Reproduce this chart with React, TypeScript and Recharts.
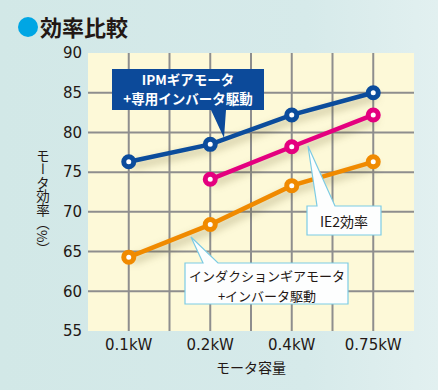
import { CartesianGrid, Line, LineChart, XAxis, YAxis } from "recharts"

const categories = ["0.1kW", "0.2kW", "0.4kW", "0.75kW"]
const ipmValues = [76.3, 78.5, 82.2, 85.0]
const ie2Values = [null, 74.1, 78.2, 82.2]
const inductionValues = [64.3, 68.4, 73.3, 76.3]
const yTicks = [55, 60, 65, 70, 75, 80, 85, 90]

const data = categories.map((name, i) => ({
  name,
  ipm: ipmValues[i],
  ie2: ie2Values[i],
  induction: inductionValues[i],
}))

const BLUE = "#0b4c9c"
const PINK = "#e4007f"
const ORANGE = "#f08a00"
const JP = "'Noto Sans CJK JP', sans-serif"
const NUM = "'DejaVu Sans', sans-serif"

export default function App() {
  return (
    <div
      style={{
        position: "absolute",
        left: 0,
        top: 0,
        width: 438,
        height: 390,
        background: "linear-gradient(90deg, #d2e8e7 0%, #d6eaea 70%, #e2f0f0 100%)",
        overflow: "hidden",
      }}
    >
      <style>{`.recharts-line { filter: drop-shadow(3px 4px 4px rgba(70, 60, 0, 0.35)); }`}</style>
      <LineChart width={438} height={390} data={data} margin={{ top: 53, right: 24, left: 0, bottom: 0 }}>
        <CartesianGrid
          fill="#fdf9d8"
          stroke="#8e8e8e"
          strokeWidth={2}
          verticalCoordinatesGenerator={({ offset }: any) =>
            [1, 2, 3, 4, 5, 6, 7].map((i) => offset.left + (offset.width * i) / 8)
          }
          horizontalCoordinatesGenerator={({ offset }: any) =>
            [1, 2, 3, 4, 5, 6].map((i) => offset.top + (offset.height * i) / 7)
          }
        />
        <XAxis
          dataKey="name"
          scale="band"
          axisLine={false}
          tickLine={false}
          height={59}
          tick={{ fill: "#231815", fontSize: 15, fontFamily: NUM }}
          label={{
            value: "モータ容量",
            position: "insideBottom",
            offset: 17,
            fill: "#231815",
            fontSize: 14,
            fontFamily: JP,
          }}
        />
        <YAxis
          domain={[55, 90]}
          ticks={yTicks}
          width={88}
          axisLine={false}
          tickLine={false}
          tickMargin={0}
          tick={{ fill: "#231815", fontSize: 15, fontFamily: NUM }}
        />
        <Line
          dataKey="ipm"
          stroke={BLUE}
          strokeWidth={4.5}
          dot={{ r: 5, fill: "#fff", stroke: BLUE, strokeWidth: 5 }}
          isAnimationActive={false}
        />
        <Line
          dataKey="ie2"
          stroke={PINK}
          strokeWidth={4.5}
          dot={{ r: 5, fill: "#fff", stroke: PINK, strokeWidth: 5 }}
          isAnimationActive={false}
        />
        <Line
          dataKey="induction"
          stroke={ORANGE}
          strokeWidth={4.5}
          dot={{ r: 5, fill: "#fff", stroke: ORANGE, strokeWidth: 5 }}
          isAnimationActive={false}
        />
      </LineChart>

      {/* title */}
      <div
        style={{
          position: "absolute",
          left: 18,
          top: 17,
          width: 20,
          height: 20,
          borderRadius: "50%",
          background: "#00a6e4",
        }}
      />
      <div
        style={{
          position: "absolute",
          left: 40,
          top: 11,
          fontFamily: JP,
          fontSize: 22,
          fontWeight: 700,
          color: "#231815",
          lineHeight: "30px",
        }}
      >
        効率比較
      </div>

      {/* callouts and y label */}
      <svg width={438} height={390} style={{ position: "absolute", left: 0, top: 0, pointerEvents: "none" }}>
        <text
          x={43}
          y={149}
          fontFamily={JP}
          fontSize={13.5}
          fill="#231815"
          style={{ writingMode: "vertical-rl" }}
        >
          モータ効率（%）
        </text>

        <path d="M112,69 H264 V110 H226 L224,138 L211,110 H112 Z" fill="#0c4a9a" />
        <text x={188} y={79} textAnchor="middle" dominantBaseline="central" fontFamily={JP} fontSize={13.5} fontWeight={700} fill="#fff">
          IPMギアモータ
        </text>
        <text x={188} y={98} textAnchor="middle" dominantBaseline="central" fontFamily={JP} fontSize={13.5} fontWeight={700} fill="#fff">
          +専用インバータ駆動
        </text>

        <path d="M307,206 H317 L308,146 L335,206 H381 V235 H307 Z" fill="#fdfefe" stroke="#7ccbe4" strokeWidth={1.2} />
        <text x={344} y={221} textAnchor="middle" dominantBaseline="central" fontFamily={JP} fontSize={14} fill="#231815">
          IE2効率
        </text>

        <path d="M185,263 H203 L191,237 L218,263 H348 V304 H185 Z" fill="#fdfefe" stroke="#7ccbe4" strokeWidth={1.2} />
        <text x={267} y={275} textAnchor="middle" dominantBaseline="central" fontFamily={JP} fontSize={13} fill="#231815">
          インダクションギアモータ
        </text>
        <text x={267} y={295} textAnchor="middle" dominantBaseline="central" fontFamily={JP} fontSize={13} fill="#231815">
          +インバータ駆動
        </text>
      </svg>
    </div>
  )
}
